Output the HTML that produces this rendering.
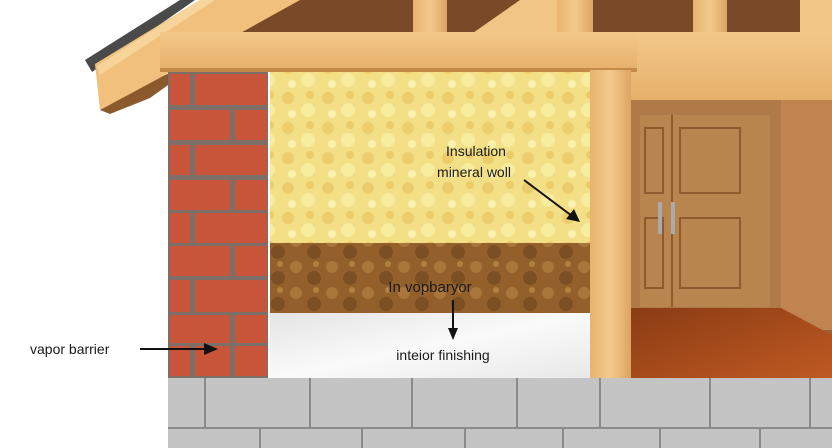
<!DOCTYPE html>
<html><head><meta charset="utf-8"><style>
html,body{margin:0;padding:0;background:#fff}
svg{display:block}
text{font-family:"Liberation Sans",sans-serif;fill:#1a1a1a}
</style></head><body>
<svg width="832" height="448" viewBox="0 0 832 448" xmlns="http://www.w3.org/2000/svg">
<defs>
<linearGradient id="wood" x1="0" y1="0" x2="0" y2="1"><stop offset="0" stop-color="#f2c88a"/><stop offset="1" stop-color="#e6b06a"/></linearGradient>
<linearGradient id="woodv" x1="0" y1="0" x2="1" y2="0"><stop offset="0" stop-color="#e8b370"/><stop offset="0.5" stop-color="#f3ca8c"/><stop offset="1" stop-color="#dca462"/></linearGradient>
<linearGradient id="floor" x1="0" y1="0" x2="1" y2="1"><stop offset="0" stop-color="#8a3c14"/><stop offset="1" stop-color="#c05a22"/></linearGradient>
<linearGradient id="white" x1="0" y1="0" x2="1" y2="1"><stop offset="0" stop-color="#e4e4e4"/><stop offset="0.5" stop-color="#fafafa"/><stop offset="1" stop-color="#e8e8e8"/></linearGradient>
<pattern id="ins" width="40" height="30" patternUnits="userSpaceOnUse"><rect width="40" height="30" fill="#f3df86"/><circle cx="8" cy="8" r="6" fill="#e8c25a" opacity=".6"/><circle cx="28" cy="20" r="7" fill="#f8ec9e"/><circle cx="30" cy="5" r="4" fill="#e3b94e" opacity=".5"/><circle cx="12" cy="24" r="4" fill="#fbf1b0"/></pattern>
<pattern id="brn" width="36" height="26" patternUnits="userSpaceOnUse"><rect width="36" height="26" fill="#93602c"/><circle cx="8" cy="7" r="6" fill="#a9773c"/><circle cx="26" cy="18" r="7" fill="#7c4f22"/><circle cx="28" cy="4" r="3" fill="#b0803f"/></pattern>
</defs>
<!-- upper background wall -->
<rect x="230" y="0" width="602" height="35" fill="#7a4a28"/>
<rect x="413" y="0" width="34" height="35" fill="url(#woodv)"/>
<polygon points="470,35 520,0 560,0 560,35" fill="#f0c585"/>
<rect x="557" y="0" width="36" height="35" fill="url(#woodv)"/>
<rect x="693" y="0" width="34" height="35" fill="url(#woodv)"/>
<rect x="800" y="0" width="32" height="35" fill="#f0c585"/>
<!-- roof shingles -->
<polygon points="85,60 180,0 195,0 92,72" fill="#4a4a4a"/>
<!-- rafter -->
<polygon points="95,64 200,0 300,0 165,75 100,110" fill="#f0c07c"/>
<polygon points="100,110 165,75 200,62 150,98 110,114" fill="#8a5a2c"/>
<polygon points="97,66 200,0 215,0 100,75" fill="#f7d49a"/>
<!-- right upper beam -->
<rect x="631" y="32" width="201" height="68" fill="url(#wood)"/>
<!-- main beam -->
<rect x="160" y="32" width="477" height="38" fill="url(#wood)"/>
<rect x="160" y="68" width="477" height="4" fill="#c38a4a"/>
<!-- interior -->
<rect x="631" y="100" width="201" height="280" fill="#9a5f33"/>
<rect x="631" y="100" width="150" height="210" fill="#b07a48"/>
<rect x="640" y="115" width="130" height="192" fill="#b9854f"/>
<rect x="645" y="128" width="18" height="65" fill="none" stroke="#8e5a2e" stroke-width="2"/>
<rect x="680" y="128" width="60" height="65" fill="none" stroke="#8e5a2e" stroke-width="2"/>
<rect x="645" y="218" width="18" height="70" fill="none" stroke="#8e5a2e" stroke-width="2"/>
<rect x="680" y="218" width="60" height="70" fill="none" stroke="#8e5a2e" stroke-width="2"/>
<line x1="672" y1="115" x2="672" y2="307" stroke="#8e5a2e" stroke-width="2"/>
<rect x="658" y="202" width="4" height="32" fill="#aaa"/><rect x="671" y="202" width="4" height="32" fill="#aaa"/>
<rect x="781" y="100" width="51" height="230" fill="#c08450"/>
<polygon points="631,308 781,308 832,335 832,380 631,380" fill="url(#floor)"/>
<!-- insulation layers -->
<rect x="270" y="72" width="320" height="172" fill="url(#ins)"/>
<rect x="270" y="243" width="320" height="70" fill="url(#brn)"/>
<rect x="270" y="313" width="320" height="66" fill="url(#white)"/>
<!-- post -->
<rect x="590" y="70" width="41" height="312" fill="url(#woodv)"/>
<!-- bricks -->
<rect x="168" y="72" width="100" height="307" fill="#7e6e68"/>
<g fill="#c8553a">
<rect x="170" y="74" width="20" height="31"/><rect x="195" y="74" width="72" height="31"/>
<rect x="170" y="110" width="60" height="30"/><rect x="235" y="110" width="32" height="30"/>
<rect x="170" y="145" width="20" height="30"/><rect x="195" y="145" width="72" height="30"/>
<rect x="170" y="180" width="60" height="30"/><rect x="235" y="180" width="32" height="30"/>
<rect x="170" y="213" width="20" height="30"/><rect x="195" y="213" width="72" height="30"/>
<rect x="170" y="246" width="60" height="30"/><rect x="235" y="246" width="32" height="30"/>
<rect x="170" y="280" width="20" height="32"/><rect x="195" y="280" width="72" height="32"/>
<rect x="170" y="315" width="60" height="28"/><rect x="235" y="315" width="32" height="28"/>
<rect x="170" y="346" width="20" height="30"/><rect x="195" y="346" width="35" height="30"/><rect x="235" y="346" width="32" height="30"/>
</g>
<!-- foundation -->
<rect x="168" y="378" width="664" height="70" fill="#c4c4c4"/>
<g stroke="#8a8a8a" stroke-width="2">
<line x1="168" y1="428" x2="832" y2="428"/>
<line x1="205" y1="378" x2="205" y2="428"/><line x1="310" y1="378" x2="310" y2="428"/><line x1="412" y1="378" x2="412" y2="428"/><line x1="517" y1="378" x2="517" y2="428"/><line x1="600" y1="378" x2="600" y2="428"/><line x1="710" y1="378" x2="710" y2="428"/><line x1="810" y1="378" x2="810" y2="428"/>
<line x1="260" y1="428" x2="260" y2="448"/><line x1="362" y1="428" x2="362" y2="448"/><line x1="465" y1="428" x2="465" y2="448"/><line x1="563" y1="428" x2="563" y2="448"/><line x1="660" y1="428" x2="660" y2="448"/><line x1="760" y1="428" x2="760" y2="448"/>
</g>
<!-- labels -->
<text x="476" y="156" font-size="14" text-anchor="middle">Insulation</text>
<text x="474" y="177" font-size="14" text-anchor="middle">mineral woll</text>
<line x1="524" y1="180" x2="572" y2="216" stroke="#111" stroke-width="2"/>
<polygon points="580,222 566,219 574,209" fill="#111"/>
<text x="430" y="292" font-size="15" text-anchor="middle">In vopbaryor</text>
<line x1="453" y1="300" x2="453" y2="330" stroke="#111" stroke-width="2"/>
<polygon points="453,340 448,328 458,328" fill="#111"/>
<text x="443" y="360" font-size="14" text-anchor="middle">inteior finishing</text>
<text x="30" y="354" font-size="14">vapor barrier</text>
<line x1="140" y1="349" x2="206" y2="349" stroke="#111" stroke-width="2"/>
<polygon points="218,349 204,343 204,355" fill="#111"/>
</svg>
</body></html>
